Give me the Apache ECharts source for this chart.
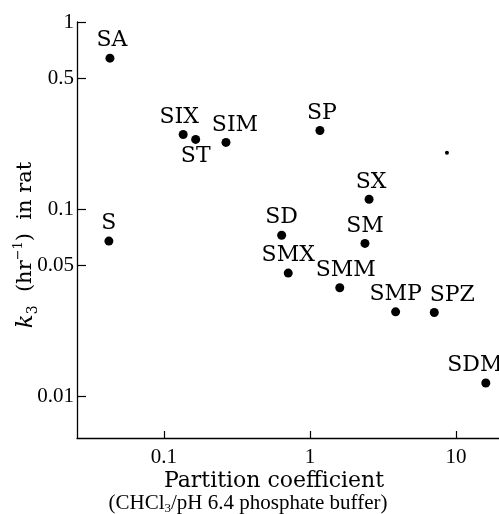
<!DOCTYPE html>
<html>
<head>
<meta charset="utf-8">
<script src="https://cdn.jsdelivr.net/npm/echarts@6/dist/echarts.min.js"></script>
<style>
html,body{margin:0;padding:0;background:#fff;}
#main{width:499px;height:514px;}
</style>
</head>
<body>
<div id="main"></div>
<script>
// compounds, partition coefficient (CHCl3/buffer) and k3 (hr-1)
var names = ['SA','S','SIX','ST','SIM','SP','SX','SD','SM','SMX','SMM','SMP','SPZ','SDM'];
var partition = [0.0427,0.042,0.1355,0.165,0.266,1.17,2.54,0.64,2.38,0.71,1.60,3.86,7.1,16.0];
var k3 = [0.641,0.0676,0.2506,0.236,0.2275,0.2635,0.113,0.0726,0.0657,0.0456,0.0381,0.0283,0.0281,0.0118];
// stray speck in the print
var speckX = [8.67];
var speckY = [0.20];

var xTicks = [0.1,1,10];
var yTicks = [0.01,0.05,0.1,0.5,1];

// label placement (style only)
var labelShift = {SIX:-4, SIM:9, SMM:6, SPZ:18, SDM:-11, SA:2, SP:2, SX:2};
var labelBelow = {ST:true};

var serif = '"DejaVu Serif", "Liberation Serif", serif';
var numFont = '"Liberation Serif", serif';

var pts = [];
for(var i=0;i<names.length;i++){
	var n = names[i];
	pts.push({
		name:n,
		value:[partition[i],k3[i]],
		label:{
			position:labelBelow[n] ? 'bottom' : 'top',
			distance:labelBelow[n] ? 1 : 2,
			offset:[labelShift[n]||0,0]
		}
	});
}
var specks = [];
for(var j=0;j<speckX.length;j++){
	specks.push([speckX[j],speckY[j]]);
}

var chart = echarts.init(document.getElementById('main'));
var option = {
	animation:false,
	backgroundColor:'#fff',
	grid:{left:77,top:22,right:0,bottom:76,containLabel:false,outerBoundsMode:'none'},
	xAxis:{
		type:'log',
		logBase:10,
		min:0.0254,
		max:19.7,
		splitLine:{show:false},
		axisLine:{lineStyle:{color:'#000',width:1.3}},
		axisTick:{inside:true,length:7,customValues:xTicks,lineStyle:{color:'#000',width:1.2}},
		axisLabel:{customValues:xTicks,margin:9,color:'#000',fontFamily:numFont,fontSize:21,
			formatter:function(v){return String(v);}}
	},
	yAxis:{
		type:'log',
		logBase:10,
		min:0.006,
		max:1,
		splitLine:{show:false},
		axisLine:{lineStyle:{color:'#000',width:1.3}},
		axisTick:{inside:true,length:9,customValues:yTicks,lineStyle:{color:'#000',width:1.2}},
		axisLabel:{customValues:yTicks,margin:3,color:'#000',fontFamily:numFont,fontSize:21,
			formatter:function(v){return String(v);}},
		name:'{k|k}{s|3}  (hr{p|−1})  in rat',
		nameLocation:'middle',
		nameRotate:90,
		nameGap:37,
		nameMoveOverlap:false,
		nameTextStyle:{
			color:'#000',
			fontFamily:serif,
			fontSize:21,
			padding:[0,30,0,0],
			rich:{
				k:{fontFamily:serif,fontSize:23,fontStyle:'italic',color:'#000',lineHeight:28},
				s:{fontFamily:serif,fontSize:14,color:'#000',verticalAlign:'bottom',lineHeight:28},
				p:{fontFamily:serif,fontSize:13,color:'#000',verticalAlign:'top',lineHeight:28}
			}
		}
	},
	graphic:[
		{type:'text',x:274,y:481,style:{text:'Partition coefficient',fontFamily:serif,fontSize:22,fill:'#000',align:'center',verticalAlign:'middle'}},
		{type:'text',x:248,y:503,style:{text:'(CHCl{s|3}/pH 6.4 phosphate buffer)',fontFamily:numFont,fontSize:21,fill:'#000',align:'center',verticalAlign:'middle',
			rich:{s:{fontFamily:numFont,fontSize:13,fill:'#000',verticalAlign:'bottom',lineHeight:24}}}}
	],
	series:[
		{
			type:'scatter',
			symbol:'circle',
			symbolSize:9,
			itemStyle:{color:'#000',opacity:1},
			label:{show:true,formatter:'{b}',color:'#000',fontFamily:serif,fontSize:22},
			data:pts
		},
		{
			type:'scatter',
			symbol:'circle',
			symbolSize:4,
			itemStyle:{color:'#000',opacity:1},
			data:specks
		}
	]
};
chart.setOption(option);
</script>
</body>
</html>
